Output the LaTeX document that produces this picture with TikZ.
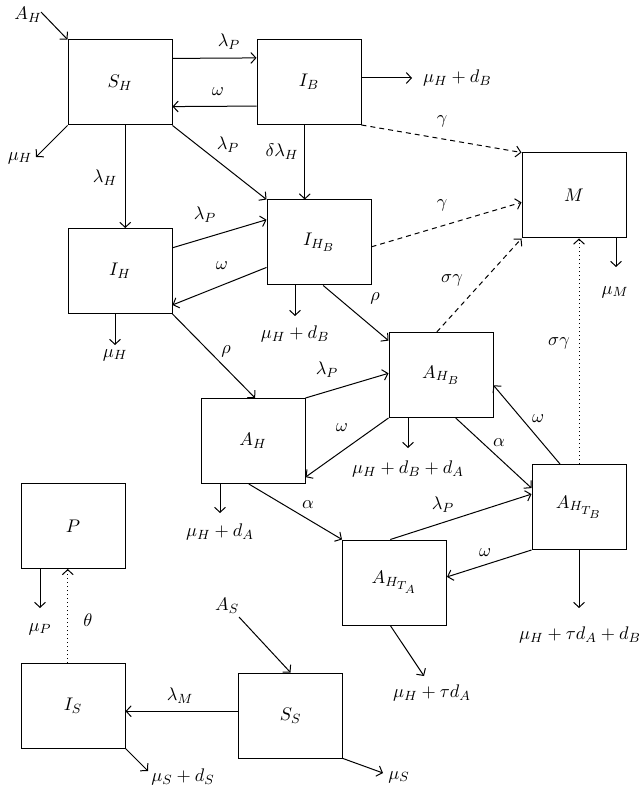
\documentclass[tikz,border=0pt]{standalone}
\usetikzlibrary{calc,arrows.meta}
\DeclareMathSizes{11}{11}{8.5}{7}
\begin{document}
\begin{tikzpicture}[x=0.6pt,y=-0.6pt, line width=0.6pt,
  >={Straight Barb[length=3pt,width=6.5pt]},
  font=\fontsize{11}{13}\selectfont,
  box/.style={draw, minimum width=62.4pt, minimum height=51pt, inner sep=0pt},
  lab/.style={inner sep=1pt},
  dsh/.style={dash pattern=on 3pt off 2.4pt},
  dotline/.style={dash pattern=on 0.6pt off 1.8pt}]
\useasboundingbox (0,0) rectangle (643,790);
% boxes
\node[box] (SH) at (120,82.5) {$S_H$};
\node[box] (IB) at (309,82) {$I_B$};
\node[box] (M) at (574,195.5) {$M$};
\node[box] (IH) at (120,271) {$I_H$};
\node[box] (IHB) at (319,242.5) {$I_{H_B}$};
\node[box] (AHB) at (441,375) {$A_{H_B}$};
\node[box] (AH) at (253,441) {$A_H$};
\node[box, minimum width=56.4pt] (AHTB) at (579,507) {$A_{H_{T_B}}$};
\node[box] (AHTA) at (394.5,582.5) {$A_{H_{T_A}}$};
\node[box] (P) at (73,526) {$P$};
\node[box] (IS) at (73,705.5) {$I_S$};
\node[box] (SS) at (290.5,715.5) {$S_S$};
% free ends
\coordinate (iSH) at (41,12);
\coordinate (oSH) at (36,157);
\coordinate (oIB) at (412,78);
\coordinate (oIH) at (115,345);
\coordinate (oIHB) at (295,316);
\coordinate (oM) at (616,267);
\coordinate (oAHB) at (408,448);
\coordinate (oAH) at (220,513);
\coordinate (oAHTB) at (579,608);
\coordinate (oAHTA) at (424,676);
\coordinate (oP) at (40,608);
\coordinate (iSS) at (239,617);
\coordinate (oIS) at (148,771);
\coordinate (oSS) at (383,773);
% connectors
\draw[->] (iSH) -- (SH.north west);
\draw[->] ($(SH.north east)!0.22!(SH.south east)$) -- ($(IB.north west)!0.22!(IB.south west)$);
\draw[->] ($(IB.north west)!0.78!(IB.south west)$) -- ($(SH.north east)!0.78!(SH.south east)$);
\draw[->] (SH.south west) -- (oSH);
\draw[->] ($(SH.south west)!0.55!(SH.south east)$) coordinate (t1) -- (t1 |- IH.north);
\draw[->] (SH.south east) -- (IHB.north west);
\draw[->] ($(IB.south west)!0.46!(IB.south east)$) coordinate (t2) -- (t2 |- IHB.north);
\draw[->] (oIB -| IB.east) -- (oIB);
\draw[->,dsh] (IB.south east) -- (M.north west);
\draw[->] ($(IH.north east)!0.23!(IH.south east)$) -- ($(IHB.north west)!0.235!(IHB.south west)$);
\draw[->] ($(IHB.north west)!0.79!(IHB.south west)$) -- ($(IH.north east)!0.895!(IH.south east)$);
\draw[->] (oIH |- IH.south) -- (oIH);
\draw[->] (IH.south east) -- ($(AH.north west)!0.52!(AH.north east)$);
\draw[->] (oIHB |- IHB.south) -- (oIHB);
\draw[->,dsh] ($(IHB.north east)!0.55!(IHB.south east)$) -- ($(M.north west)!0.58!(M.south west)$);
\draw[->] ($(IHB.south west)!0.54!(IHB.south east)$) -- ($(AHB.north west)!0.1!(AHB.south west)$);
\draw[->,dsh] ($(AHB.north west)!0.46!(AHB.north east)$) -- (M.south west);
\draw[->,dotline] (AHTB.north) -- (AHTB.north |- M.south);
\draw[->] (oM |- M.south) -- (oM);
\draw[->] (AH.north east) -- ($(AHB.north west)!0.48!(AHB.south west)$);
\draw[->] (AHB.south west) -- ($(AH.north east)!0.92!(AH.south east)$);
\draw[->] (oAHB |- AHB.south) -- (oAHB);
\draw[->] ($(AHB.south west)!0.64!(AHB.south east)$) -- ($(AHTB.north west)!0.28!(AHTB.south west)$);
\draw[->] ($(AHTB.north west)!0.3!(AHTB.north east)$) -- ($(AHB.north east)!0.62!(AHB.south east)$);
\draw[->] (oAH |- AH.south) -- (oAH);
\draw[->] ($(AH.south west)!0.46!(AH.south east)$) -- (AHTA.north west);
\draw[->] ($(AHTA.north west)!0.46!(AHTA.north east)$) -- ($(AHTB.north west)!0.35!(AHTB.south west)$);
\draw[->] (AHTB.south west) -- ($(AHTA.north east)!0.435!(AHTA.south east)$);
\draw[->] (AHTB.south) -- (oAHTB);
\draw[->] ($(AHTA.south west)!0.46!(AHTA.south east)$) -- (oAHTA);
\draw[->] (oP |- P.south) -- (oP);
\draw[->,dotline] ($(IS.north west)!0.45!(IS.north east)$) coordinate (t4) -- (t4 |- P.south);
\draw[->] (iSS) -- (SS.north);
\draw[->] ($(SS.north west)!0.45!(SS.south west)$) coordinate (t5) -- (t5 -| IS.east);
\draw[->] (IS.south east) -- (oIS);
\draw[->] (SS.south east) -- (oSS);
% labels
\node[lab] (l1) at (28,15) {$A_H$};
\node[lab] (l2) at (229,42) {$\lambda_P$};
\node[lab] (l3) at (218,92) {$\omega$};
\node[lab] (l4) at (20,158) {$\mu_H$};
\node[lab] (l5) at (105,178) {$\lambda_H$};
\node[lab] (l6) at (228,145) {$\lambda_P$};
\node[lab] (l7) at (282,152) {$\delta\lambda_H$};
\node[lab, anchor=west] (l8) at (421,78) {$\mu_H + d_B$};
\node[lab] (l9) at (442,121) {$\gamma$};
\node[lab] (l10) at (205,215) {$\lambda_P$};
\node[lab] (l11) at (222,266) {$\omega$};
\node[lab] (l12) at (115,355) {$\mu_H$};
\node[lab] (l13) at (226,351) {$\rho$};
\node[lab] (l14) at (295,334) {$\mu_H + d_B$};
\node[lab] (l15) at (442,205) {$\gamma$};
\node[lab] (l16) at (375,298) {$\rho$};
\node[lab] (l17) at (452,280) {$\sigma\gamma$};
\node[lab] (l18) at (559,343) {$\sigma\gamma$};
\node[lab] (l19) at (615,292) {$\mu_M$};
\node[lab] (l20) at (327,370) {$\lambda_P$};
\node[lab] (l21) at (342,428) {$\omega$};
\node[lab] (l22) at (408,469) {$\mu_H + d_B + d_A$};
\node[lab] (l23) at (499,443) {$\alpha$};
\node[lab] (l24) at (538,419) {$\omega$};
\node[lab] (l25) at (220,532) {$\mu_H + d_A$};
\node[lab] (l26) at (308,505) {$\alpha$};
\node[lab] (l27) at (443,505) {$\lambda_P$};
\node[lab] (l28) at (485,553) {$\omega$};
\node[lab] (l29) at (580,635) {$\mu_H + \tau d_A + d_B$};
\node[lab] (l30) at (432,693) {$\mu_H + \tau d_A$};
\node[lab] (l31) at (40,629) {$\mu_P$};
\node[lab] (l32) at (88,620) {$\theta$};
\node[lab] (l33) at (227,606) {$A_S$};
\node[lab] (l34) at (180,696) {$\lambda_M$};
\node[lab] (l35) at (183,777) {$\mu_S + d_S$};
\node[lab] (l36) at (399,777) {$\mu_S$};
\end{tikzpicture}
\end{document}
